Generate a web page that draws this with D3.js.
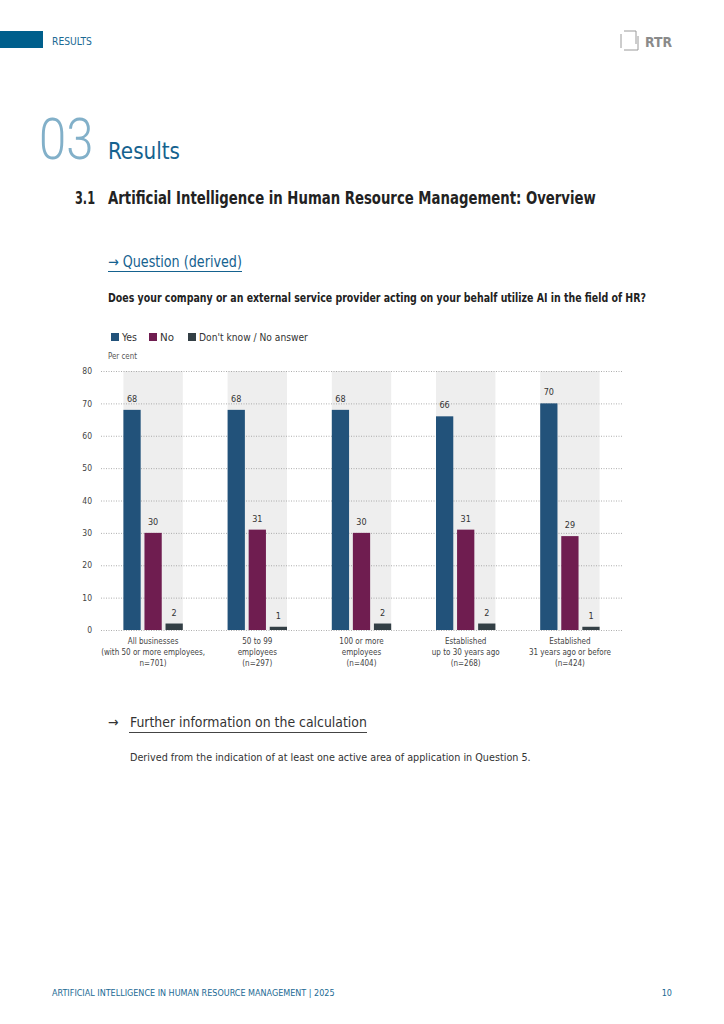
<!DOCTYPE html>
<html>
<head>
<meta charset="utf-8">
<script src="https://cdn.jsdelivr.net/npm/d3@7"></script>
<style>
  body { margin: 0; background: #fff; }
  svg { display: block; }
  text { font-family: "DejaVu Sans Condensed", "Roboto", sans-serif; }
</style>
</head>
<body>
<div id="page"></div>
<script>
// chart data
const groups = [
  ["All businesses", "(with 50 or more employees,", "n=701)"],
  ["50 to 99", "employees", "(n=297)"],
  ["100 or more", "employees", "(n=404)"],
  ["Established", "up to 30 years ago", "(n=268)"],
  ["Established", "31 years ago or before", "(n=424)"]
];
const seriesNames = ["Yes", "No", "Don't know / No answer"];
const yesValues = [68, 68, 68, 66, 70];
const noValues = [30, 31, 30, 31, 29];
const dkValues = [2, 1, 2, 2, 1];
const yTicks = [0, 10, 20, 30, 40, 50, 60, 70, 80];
const colors = ["#22527a", "#6f1d50", "#333f45"];

const svg = d3.select("#page").append("svg")
  .attr("width", 724)
  .attr("height", 1024);

// text helper, squeezed horizontally to the width seen in the reference
function txt(x, y, size, fill, str, len, weight) {
  const t = svg.append("text").attr("font-size", size).attr("fill", fill).text(str);
  if (weight) t.attr("font-weight", weight);
  let sx = 1;
  if (len) sx = len / t.node().getComputedTextLength();
  t.attr("transform", `translate(${x},${y}) scale(${sx},1)`);
  return t;
}

// page header
svg.append("rect").attr("x", 0).attr("y", 31).attr("width", 43).attr("height", 17).attr("fill", "#005f8c");
txt(52, 45, 10, "#1b6a94", "RESULTS", 40);

// RTR logo
const logo = svg.append("g").attr("transform", "translate(620,30)").attr("fill", "none").attr("stroke", "#9a9a9a").attr("stroke-width", 1);
logo.append("path").attr("d", "M1,4 V18 M4,1 H16 V14 M4,20 H18 V6");
txt(645, 47, 14, "#8a8a8a", "RTR", 27, "bold");

// chapter title
txt(39, 159, 58, "#82b0c9", "03", 56, 300).style("font-family", "Roboto");
txt(108, 159, 23, "#15628f", "Results", 72);

txt(75, 204, 17, "#222", "3.1", 20, "bold");
txt(108, 204, 17, "#222", "Artificial Intelligence in Human Resource Management: Overview", 488, "bold");

txt(108, 267, 15, "#15628f", "→ Question (derived)", 134);
svg.append("line").attr("x1", 108).attr("x2", 242).attr("y1", 271.5).attr("y2", 271.5).attr("stroke", "#15628f").attr("stroke-width", 1);

txt(108, 302, 12.5, "#222", "Does your company or an external service provider acting on your behalf utilize AI in the field of HR?", 539, "bold");

// legend
const legendX = [111, 149, 188];
const legendLen = [15, 14, 109];
seriesNames.forEach((name, i) => {
  svg.append("rect").attr("x", legendX[i]).attr("y", 333).attr("width", 8).attr("height", 8).attr("fill", colors[i]);
  txt(legendX[i] + 11, 341, 10, "#333", name, legendLen[i]);
});
txt(108, 359, 8.5, "#555", "Per cent", 29);

// chart area
const x0 = d3.scaleBand()
  .domain(d3.range(groups.length))
  .range([101, 622])
  .paddingInner(0.43)
  .paddingOuter(0.215);

const x1 = d3.scaleBand()
  .domain(d3.range(seriesNames.length))
  .range([0, x0.bandwidth()])
  .paddingInner(0.18);

const y = d3.scaleLinear().domain([0, 80]).range([630, 371]);

const chart = svg.append("g");

// grey group backgrounds
chart.selectAll(".bg")
  .data(groups)
  .enter().append("rect")
  .attr("x", (d, i) => x0(i))
  .attr("y", y(80))
  .attr("width", x0.bandwidth())
  .attr("height", y(0) - y(80))
  .attr("fill", "#eeeeee");

// y axis with dotted gridlines
chart.append("g")
  .attr("transform", "translate(101,0)")
  .call(d3.axisLeft(y).tickValues(yTicks).tickSize(-521).tickPadding(9))
  .call(g => g.select(".domain").remove())
  .call(g => g.selectAll(".tick line").attr("stroke", "#999").attr("stroke-dasharray", "1,1.5").attr("stroke-width", 0.8))
  .call(g => g.selectAll(".tick text").attr("font-size", 8.5).attr("fill", "#444")
    .style("font-family", "'DejaVu Sans Condensed', sans-serif"));

const series = [yesValues, noValues, dkValues];
series.forEach((vals, s) => {
  chart.selectAll(".bar" + s)
    .data(vals)
    .enter().append("rect")
    .attr("x", (d, i) => x0(i) + x1(s))
    .attr("y", d => y(d))
    .attr("width", x1.bandwidth())
    .attr("height", d => y(0) - y(d))
    .attr("fill", colors[s]);

  chart.selectAll(".lbl" + s)
    .data(vals)
    .enter().append("text")
    .attr("x", (d, i) => x0(i) + x1(s) + x1.bandwidth() / 2)
    .attr("y", d => y(d) - 8)
    .attr("text-anchor", "middle")
    .attr("font-size", 9)
    .attr("fill", "#333")
    .text(d => d);
});

// category labels
groups.forEach((lines, i) => {
  const t = chart.append("text")
    .attr("x", x0(i) + x0.bandwidth() / 2)
    .attr("y", 644)
    .attr("text-anchor", "middle")
    .attr("font-size", 8)
    .attr("fill", "#444");
  lines.forEach((l, j) => {
    t.append("tspan").attr("x", x0(i) + x0.bandwidth() / 2).attr("dy", j === 0 ? 0 : 11).text(l);
  });
});

// further information
txt(108, 727, 14, "#333", "→");
txt(130, 727, 14, "#333", "Further information on the calculation", 237);
svg.append("line").attr("x1", 129).attr("x2", 367).attr("y1", 732.5).attr("y2", 732.5).attr("stroke", "#444").attr("stroke-width", 1);
txt(130, 761, 10, "#333", "Derived from the indication of at least one active area of application in Question 5.", 401);

// footer
txt(52, 996, 9, "#1b6a94", "ARTIFICIAL INTELLIGENCE IN HUMAN RESOURCE MANAGEMENT | 2025", 283);
svg.append("text").attr("x", 672).attr("y", 996).attr("text-anchor", "end").attr("font-size", 9).attr("fill", "#1b6a94").text("10");
</script>
</body>
</html>
